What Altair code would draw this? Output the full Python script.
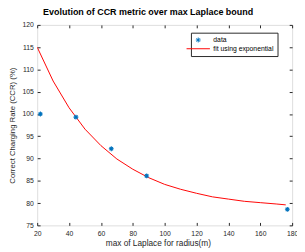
import altair as alt
import pandas as pd

# data points
data_x = [22, 44.3, 66.5, 88.7, 177]
data_y = [100.0, 99.3, 92.2, 86.1, 78.6]

# fitted exponential curve values
fit_x = [20, 30, 40, 50, 60, 70, 80, 90, 100, 110, 120, 130, 140, 150, 160, 170, 176]
fit_y = [115.0, 107.4, 101.4, 96.6, 92.9, 89.9, 87.6, 85.7, 84.2, 83.1, 82.2, 81.4, 80.9, 80.4, 80.1, 79.8, 79.6]

series_names = ["data", "fit using exponential"]
x_ticks = [20, 40, 60, 80, 100, 120, 140, 160, 180]
y_ticks = [75, 80, 85, 90, 95, 100, 105, 110, 115, 120]

df_pts = pd.DataFrame({"x": data_x, "y": data_y, "series": "data"})
df_fit = pd.DataFrame({"x": fit_x, "y": fit_y, "series": "fit using exponential"})

AST = "M-1,0L1,0M0,-1L0,1M-0.7,-0.7L0.7,0.7M-0.7,0.7L0.7,-0.7"
LINE = "M-4.8,0L4.8,0"

axis_col = "#262626"
font = "Liberation Sans"

xs = alt.Scale(domain=[20, 180], nice=False)
ys = alt.Scale(domain=[75, 120], nice=False)

color = alt.Color(
    "series:N",
    scale=alt.Scale(domain=series_names, range=["#0072BD", "#FF0000"]),
    legend=alt.Legend(
        title=None,
        orient="none",
        legendX=158,
        legendY=8,
        fillColor="white",
        strokeColor=axis_col,
        padding=4,
        labelFont=font,
        labelFontSize=7,
        labelColor="#000000",
        labelOffset=12,
        rowPadding=0,
        symbolSize=25,
        symbolStrokeWidth=1,
        labelExpr="datum.label + '\u00a0\u00a0\u00a0\u00a0\u00a0\u00a0\u00a0\u00a0\u00a0\u00a0\u00a0'",
    ),
)
shape = alt.Shape(
    "series:N",
    scale=alt.Scale(domain=series_names, range=[AST, LINE]),
)

bottom_axis = alt.Axis(
    values=x_ticks, orient="bottom", domain=False, grid=False, tickSize=3, offset=-3,
    tickColor=axis_col, labelColor=axis_col, labelFont=font, labelFontSize=7,
    labelPadding=4, title="max of Laplace for radius(m)", titleFont=font,
    titleFontSize=8.5, titleFontWeight="normal", titleColor=axis_col, titlePadding=3,
    titleX=124, labelFlush=False,
)
left_axis = alt.Axis(
    values=y_ticks, orient="left", domain=False, grid=False, tickSize=3, offset=-3,
    tickColor=axis_col, labelColor=axis_col, labelFont=font, labelFontSize=7,
    labelPadding=4, title="Correct Charging Rate (CCR) (%)", titleFont=font,
    titleFontSize=8, titleFontWeight="normal", titleColor=axis_col, titlePadding=6,
)
top_axis = alt.Axis(
    values=x_ticks, orient="top", domain=False, grid=False, tickSize=3, offset=-3,
    tickColor=axis_col, labels=False, title=None,
)
right_axis = alt.Axis(
    values=y_ticks, orient="right", domain=False, grid=False, tickSize=3, offset=-3,
    tickColor=axis_col, labels=False, title=None,
)

line = alt.Chart(df_fit).mark_line(strokeWidth=1, clip=True).encode(
    x=alt.X("x:Q", scale=xs, axis=top_axis),
    y=alt.Y("y:Q", scale=ys, axis=right_axis),
    color=color,
)

pts = alt.Chart(df_pts).mark_point(filled=False, size=25, strokeWidth=1.1, opacity=1).encode(
    x=alt.X("x:Q", scale=xs, axis=bottom_axis),
    y=alt.Y("y:Q", scale=ys, axis=left_axis),
    color=color,
    shape=shape,
)

chart = (
    alt.layer(line, pts)
    .resolve_axis(x="independent", y="independent")
    .properties(
        width=262,
        height=206,
        autosize=alt.AutoSizeParams(type="none"),
        padding={"left": 30, "top": 14, "right": 5, "bottom": 24},
        title=alt.TitleParams(
            "Evolution of CCR metric over max Laplace bound",
            font=font, fontSize=9.2, fontWeight="bold", color="#000000",
            anchor="middle", dx=-17, offset=4,
        ),
    )
    .configure_view(stroke=axis_col, strokeWidth=1)
    .configure(background="white")
)

chart.save("out.html", embed_options={"renderer": "svg", "actions": False})
